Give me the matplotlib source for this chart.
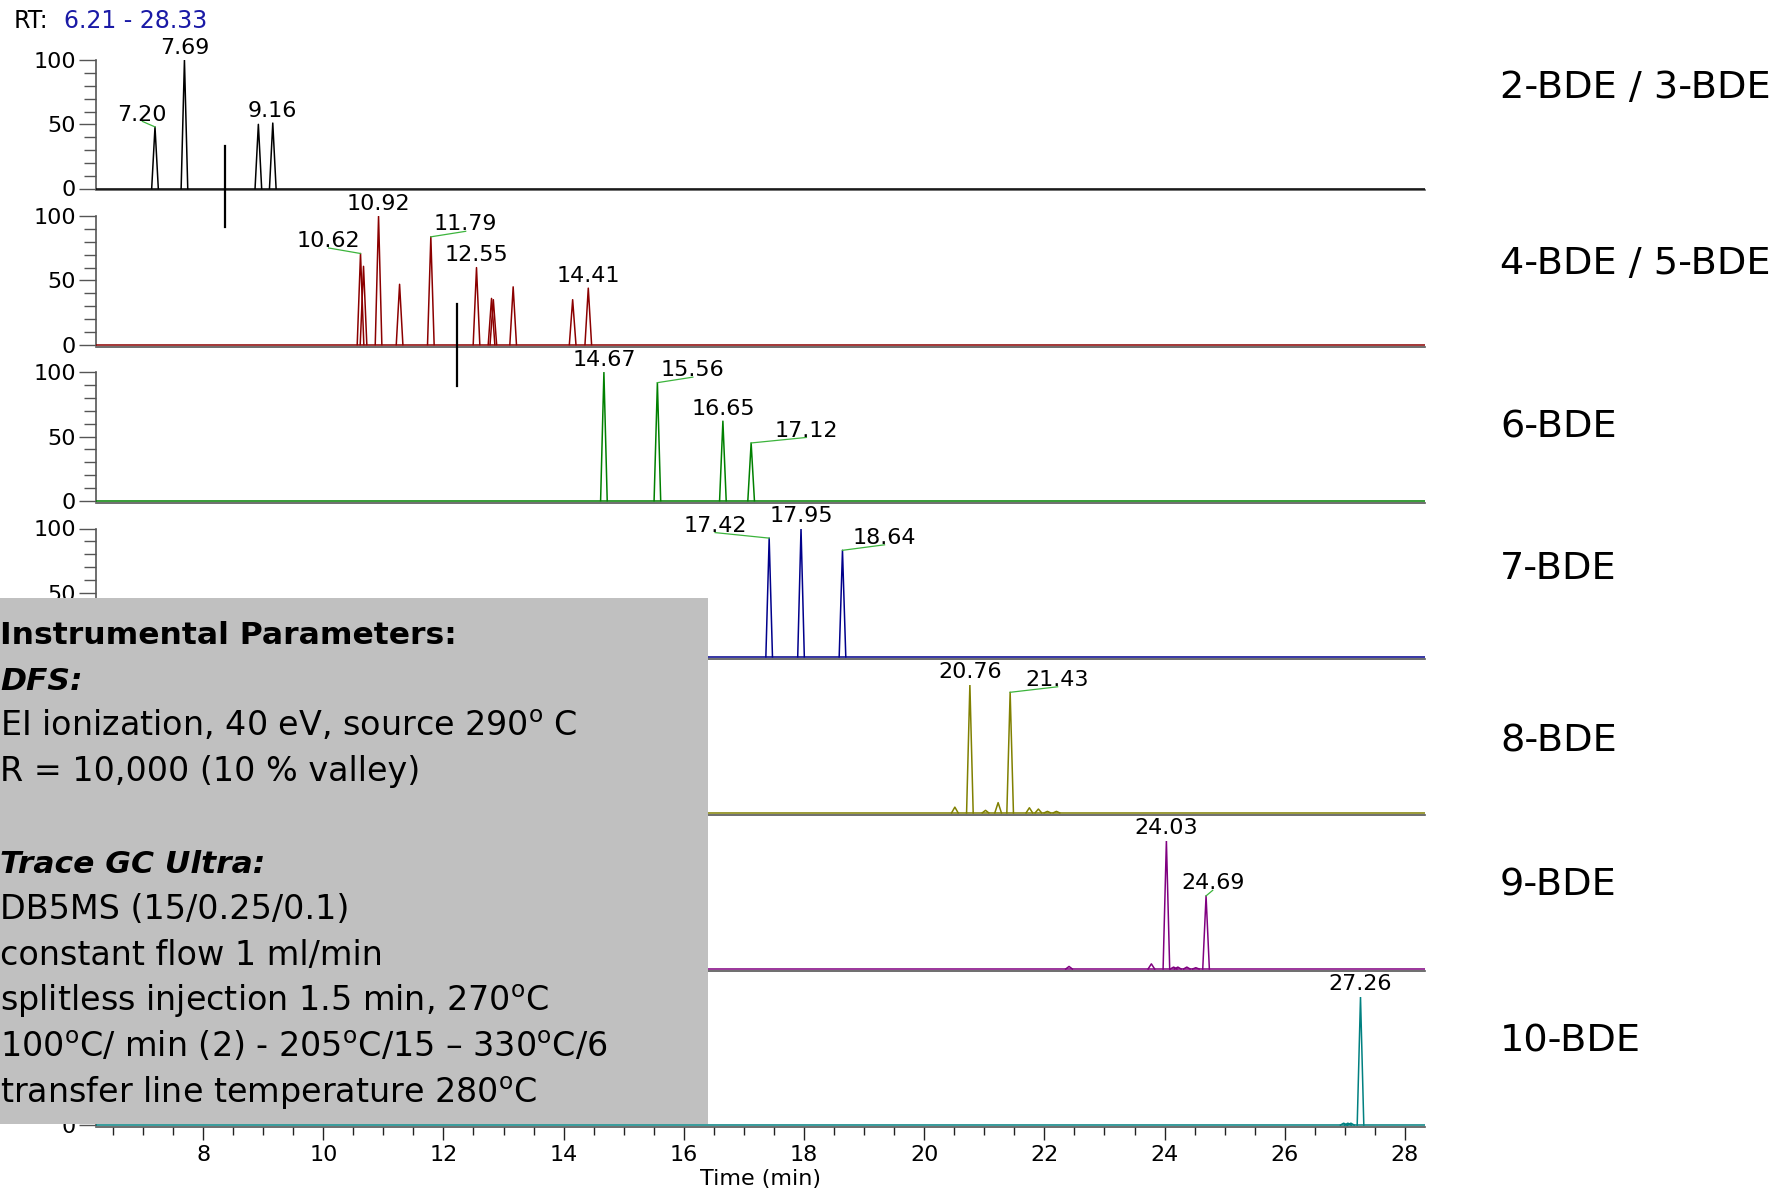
import matplotlib
matplotlib.use("Agg")
import matplotlib.pyplot as plt
from matplotlib.patches import Rectangle
from matplotlib.ticker import MultipleLocator

plt.rcParams.update({
    "font.family": "DejaVu Sans",
    "mathtext.fontset": "dejavusans",
})

# retention-time window
RT_RANGE = (6.21, 28.33)

# one trace per bromination level: peak retention times (min) and relative heights (%)
TRACE_NAMES = ["2-BDE / 3-BDE", "4-BDE / 5-BDE", "6-BDE", "7-BDE",
               "8-BDE", "9-BDE", "10-BDE"]
TRACE_COLORS = ["#000000", "#8b0000", "#008000", "#00008b",
                "#808000", "#800080", "#008080"]

rt_2_3 = [7.20, 7.69, 8.92, 9.16]
ht_2_3 = [48, 100, 50, 51]
rt_4_5 = [10.62, 10.67, 10.92, 11.27, 11.79, 12.55, 12.80, 12.83, 13.16, 14.15, 14.41]
ht_4_5 = [71, 61, 100, 47, 84, 60, 36, 35, 45, 35, 44]
rt_6 = [14.67, 15.56, 16.65, 17.12]
ht_6 = [100, 92, 62, 45]
rt_7 = [17.42, 17.95, 18.64]
ht_7 = [92.5, 100, 83]
rt_8 = [20.51, 20.76, 21.02, 21.23, 21.43, 21.75, 21.90, 22.05, 22.20]
ht_8 = [4.5, 100, 2, 8, 94, 4, 3, 1.2, 1.2]
rt_9 = [22.41, 23.78, 24.03, 24.15, 24.22, 24.37, 24.52, 24.69]
ht_9 = [2, 4, 100, 1.5, 1.5, 1.5, 1, 57]
rt_10 = [26.98, 27.05, 27.10, 27.26]
ht_10 = [1.5, 1.5, 1.5, 100]

# peaks that carry a retention-time label
labelled = [
    [7.20, 7.69, 9.16],
    [10.62, 10.92, 11.79, 12.55, 14.41],
    [14.67, 15.56, 16.65, 17.12],
    [17.42, 17.95, 18.64],
    [20.76, 21.43],
    [24.03, 24.69],
    [27.26],
]

# window boundaries between the combined traces
window_marks = [8.37, 12.22]

instrument_lines = [
    ("Instrumental Parameters:", "bold", "normal"),
    ("DFS:", "bold", "italic"),
    ("EI ionization, 40 eV, source 290$^{\\mathrm{o}}$ C", "normal", "normal"),
    ("R = 10,000 (10 % valley)", "normal", "normal"),
    ("", "normal", "normal"),
    ("Trace GC Ultra:", "bold", "italic"),
    ("DB5MS (15/0.25/0.1)", "normal", "normal"),
    ("constant flow 1 ml/min", "normal", "normal"),
    ("splitless injection 1.5 min, 270$^{\\mathrm{o}}$C", "normal", "normal"),
    ("100$^{\\mathrm{o}}$C/ min (2) - 205$^{\\mathrm{o}}$C/15 \u2013 330$^{\\mathrm{o}}$C/6",
     "normal", "normal"),
    ("transfer line temperature 280$^{\\mathrm{o}}$C", "normal", "normal"),
]

traces = [(rt_2_3, ht_2_3), (rt_4_5, ht_4_5), (rt_6, ht_6), (rt_7, ht_7),
          (rt_8, ht_8), (rt_9, ht_9), (rt_10, ht_10)]

# labels pushed sideways (min) get a green leader back to the apex
LABEL_DX = {7.20: -0.21, 10.62: -0.53, 11.79: 0.58, 15.56: 0.59, 17.12: 0.92,
            17.42: -0.90, 18.64: 0.70, 21.43: 0.79, 24.69: 0.11}
LEADER = "#3cb43c"
AXIS_GREY = "#555555"

W, H = 1780, 1191
fig = plt.figure(figsize=(W / 100, H / 100), dpi=100)

X0, X1 = 95.5, 1424.8          # pixel span of the time axis
BASE0, STEP, SPAN = 188.5, 156.1, 128.3
YLO = -1.5
NAME_Y = [88.5, 264.5, 427, 569, 741, 885, 1041]   # pixel rows of the trace names

axes = []
for i, ((rts, hts), color) in enumerate(zip(traces, TRACE_COLORS)):
    base = BASE0 + STEP * i
    top = base - SPAN
    bot = base - YLO * SPAN / 100
    ax = fig.add_axes([X0 / W, 1 - bot / H, (X1 - X0) / W, (bot - top) / H])
    ax.set_xlim(*RT_RANGE)
    ax.set_ylim(YLO, 100)
    ax.patch.set_alpha(0)
    for s in ("top", "right"):
        ax.spines[s].set_visible(False)
    ax.spines["left"].set_bounds(0, 100)
    for s in ("left", "bottom"):
        ax.spines[s].set_color(AXIS_GREY)
        ax.spines[s].set_linewidth(1.2)
    ax.yaxis.set_major_locator(MultipleLocator(50))
    ax.yaxis.set_minor_locator(MultipleLocator(10))
    ax.tick_params(axis="y", which="major", length=12, width=1.0, color=AXIS_GREY,
                   labelsize=16, pad=2)
    ax.tick_params(axis="y", which="minor", length=8.5, width=1.0, color=AXIS_GREY)

    # chromatogram trace: flat baseline plus a narrow spike per peak
    ax.axhline(0, color=color, lw=1.1, zorder=3)
    for rt, h in zip(rts, hts):
        hw = 0.055
        ax.plot([rt - hw, rt, rt + hw], [0, h, 0], color=color, lw=1.1, zorder=3)

    for rt in labelled[i]:
        h = hts[rts.index(rt)]
        dx = LABEL_DX.get(rt, 0.0)
        ax.text(rt + dx, h + 5, f"{rt:.2f}", ha="center", va="baseline",
                fontsize=16, zorder=5)
        if rt in LABEL_DX:
            ax.plot([rt, rt + dx], [h, h + 4.3], color=LEADER, lw=0.9,
                    clip_on=False, zorder=4)

    fig.text(1500 / W, 1 - NAME_Y[i] / H, TRACE_NAMES[i], fontsize=27.5,
             va="center", ha="left")
    axes.append(ax)

for ax in axes[:-1]:
    ax.tick_params(axis="x", which="both", bottom=False, labelbottom=False)

axb = axes[-1]
axb.xaxis.set_major_locator(MultipleLocator(2))
axb.xaxis.set_minor_locator(MultipleLocator(0.5))
axb.tick_params(axis="x", which="major", length=9, width=1.0, color="#222222",
                labelsize=16, pad=4)
axb.tick_params(axis="x", which="minor", length=6, width=1.0, color="#222222")
axb.set_xlabel("Time (min)", fontsize=16, labelpad=3)

# window boundary marks crossing from one trace into the next
axes[0].plot([window_marks[0]] * 2, [33, -30], color="k", lw=1.6, clip_on=False, zorder=6)
axes[1].plot([window_marks[1]] * 2, [31.5, -32.5], color="k", lw=1.6, clip_on=False, zorder=6)

fig.text(13.6 / W, 1 - 20.5 / H, "RT:", fontsize=17, va="center", ha="left")
fig.text(64 / W, 1 - 20.5 / H, f"{RT_RANGE[0]:.2f} - {RT_RANGE[1]:.2f}",
         fontsize=17, va="center", ha="left", color="#1a1aa6")

# grey parameter panel over the lower-left part of the traces
box_top, box_bot, box_right = 598, 1124, 708
fig.add_artist(Rectangle((0, 1 - box_bot / H), box_right / W, (box_bot - box_top) / H,
                         transform=fig.transFigure, facecolor="#c0c0c0",
                         edgecolor="none", zorder=10))
for k, (line, weight, style) in enumerate(instrument_lines):
    if not line:
        continue
    y = 643.8 + 45.9 * k
    size = 22.6 if weight == "bold" else 24
    fig.text(0.5 / W, 1 - y / H, line, fontsize=size, fontweight=weight,
             fontstyle=style, va="baseline", ha="left", zorder=11)

fig.savefig("out.png", dpi=100)
